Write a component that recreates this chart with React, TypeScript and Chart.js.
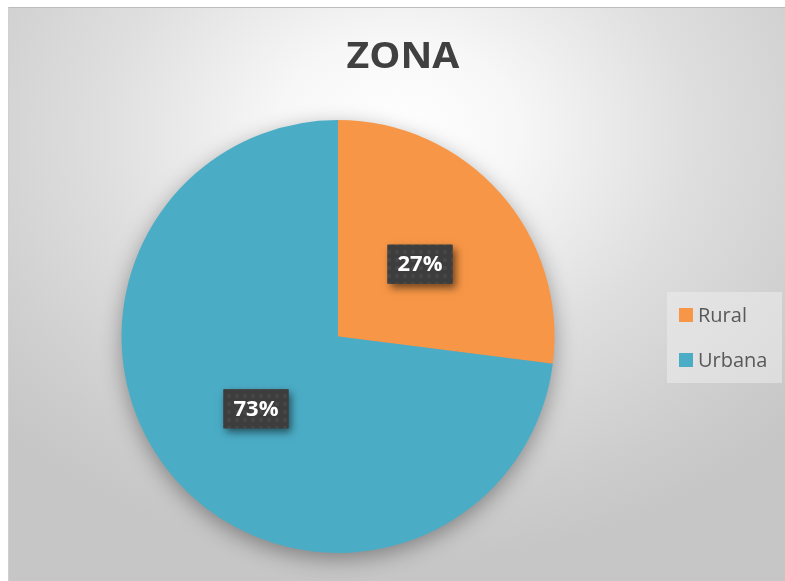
import React, { useEffect, useRef } from "react";
import { Chart, registerables } from "chart.js";

Chart.register(...registerables);

const titleText = "ZONA";
const categories = ["Rural", "Urbana"];
const values = [27, 73];
const sliceColors = ["#F79646", "#4BACC6"];

const W = 777;
const H = 574;

function makePattern(ctx: CanvasRenderingContext2D) {
  const c = document.createElement("canvas");
  c.width = 8;
  c.height = 8;
  const p = c.getContext("2d")!;
  p.fillStyle = "#3d3d3d";
  p.fillRect(0, 0, 8, 8);
  p.fillStyle = "#474747";
  p.beginPath();
  p.arc(4, 4, 2.2, 0, Math.PI * 2);
  p.fill();
  return ctx.createPattern(c, "repeat");
}

const decorPlugin = {
  id: "decor",
  beforeDatasetsDraw(chart: any) {
    const meta = chart.getDatasetMeta(0);
    const arc = meta.data[0];
    if (!arc) return;
    const ctx = chart.ctx as CanvasRenderingContext2D;
    ctx.save();
    ctx.shadowColor = "rgba(0,0,0,0.38)";
    ctx.shadowBlur = 22;
    ctx.shadowOffsetX = 0;
    ctx.shadowOffsetY = 6;
    ctx.fillStyle = "#9a9a9a";
    ctx.beginPath();
    ctx.arc(arc.x, arc.y, arc.outerRadius - 1, 0, Math.PI * 2);
    ctx.fill();
    ctx.restore();
  },
  afterDatasetsDraw(chart: any) {
    const ctx = chart.ctx as CanvasRenderingContext2D;
    const meta = chart.getDatasetMeta(0);
    const data = chart.data.datasets[0].data as number[];
    const total = data.reduce((a, b) => a + b, 0);
    const pattern = makePattern(ctx);
    meta.data.forEach((arc: any, i: number) => {
      const mid = (arc.startAngle + arc.endAngle) / 2;
      const r = arc.outerRadius * 0.505;
      const cx = arc.x + Math.cos(mid) * r;
      const cy = arc.y + Math.sin(mid) * r;
      const label = Math.round((data[i] / total) * 100) + "%";
      ctx.save();
      ctx.font = "bold 22px 'Open Sans'";
      const bw = 65;
      const bh = 39;
      ctx.shadowColor = "rgba(0,0,0,0.55)";
      ctx.shadowBlur = 8;
      ctx.shadowOffsetX = 3;
      ctx.shadowOffsetY = 4;
      ctx.fillStyle = "#3f3f3f";
      ctx.fillRect(cx - bw / 2, cy - bh / 2, bw, bh);
      ctx.shadowColor = "transparent";
      if (pattern) {
        ctx.fillStyle = pattern;
        ctx.fillRect(cx - bw / 2, cy - bh / 2, bw, bh);
      }
      ctx.fillStyle = "#ffffff";
      ctx.textAlign = "center";
      ctx.textBaseline = "middle";
      ctx.fillText(label, cx, cy + 1);
      ctx.restore();
    });
  },
  afterDraw(chart: any) {
    const ctx = chart.ctx as CanvasRenderingContext2D;
    ctx.save();
    // title
    ctx.fillStyle = "#404040";
    ctx.font = "bold 35px 'Open Sans'";
    ctx.textAlign = "center";
    ctx.textBaseline = "alphabetic";
    ctx.translate(394, 60);
    ctx.scale(1.12, 1);
    ctx.fillText(chart.options.plugins.customTitle.text, 0, 0);
    ctx.restore();

    // legend
    ctx.save();
    ctx.fillStyle = "rgba(236,236,236,0.55)";
    ctx.fillRect(658, 284, 115, 91);
    const labels = chart.data.labels as string[];
    const colors = chart.data.datasets[0].backgroundColor as string[];
    labels.forEach((lab, i) => {
      const y = 300 + i * 45;
      ctx.fillStyle = colors[i];
      ctx.fillRect(670, y, 14, 14);
      ctx.fillStyle = "#595959";
      ctx.font = "20px 'Open Sans'";
      ctx.textAlign = "left";
      ctx.textBaseline = "alphabetic";
      ctx.fillText(lab, 689, y + 14);
    });
    ctx.restore();
  },
};

export default function App() {
  const ref = useRef<HTMLCanvasElement | null>(null);
  useEffect(() => {
    if (!ref.current) return;
    const chart = new Chart(ref.current, {
      type: "pie",
      data: {
        labels: categories,
        datasets: [
          {
            data: values,
            backgroundColor: sliceColors,
            borderWidth: 0,
          },
        ],
      },
      options: {
        animation: false,
        responsive: true,
        maintainAspectRatio: false,
        layout: {
          padding: { left: 112.5, right: 230.5, top: 112, bottom: 28 },
        },
        plugins: {
          legend: { display: false },
          title: { display: false },
          tooltip: { enabled: false },
          customTitle: { text: titleText },
        } as any,
      },
      plugins: [decorPlugin],
    });
    return () => chart.destroy();
  }, []);

  return (
    <div
      style={{
        position: "absolute",
        left: 8,
        top: 7,
        width: W,
        height: H,
        boxSizing: "border-box",
        borderTop: "1px solid #bdbdbd",
        borderLeft: "1px solid #d0d0d0",
        background:
          "radial-gradient(ellipse 70% 75% at 50% 22%, #ffffff 0%, #f7f7f7 22%, #dedede 55%, #cdcdcd 85%, #c6c6c6 100%)",
      }}
    >
      <canvas ref={ref} width={W} height={H} />
    </div>
  );
}
